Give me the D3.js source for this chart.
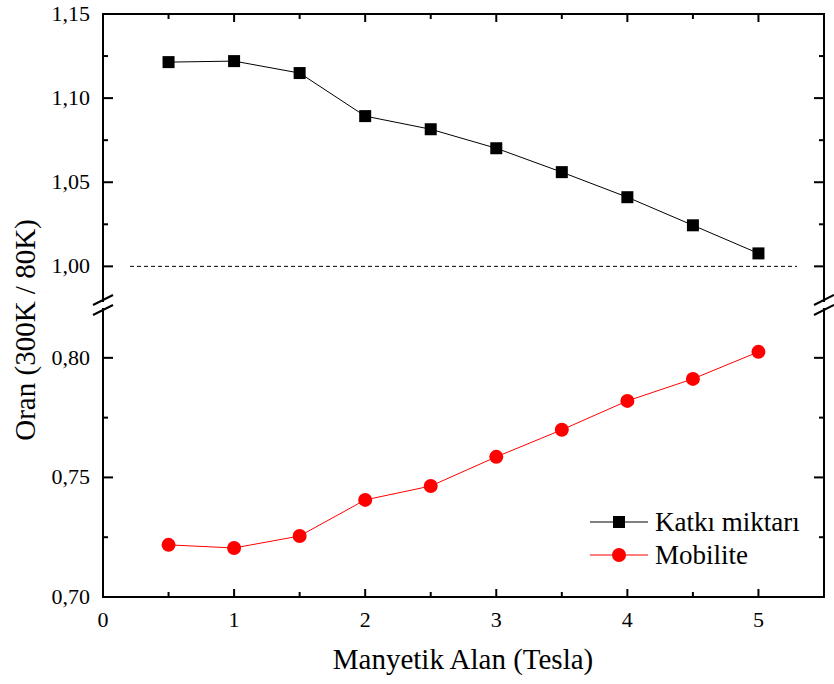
<!DOCTYPE html>
<html><head><meta charset="utf-8">
<script src="https://cdn.jsdelivr.net/npm/d3@7"></script>
<style>body{margin:0;background:#fff}svg{display:block}</style>
</head><body><svg id="c" width="834" height="684"></svg>
<script>
const fieldT = [0.5,1,1.5,2,2.5,3,3.5,4,4.5,5];
const katki = [1.1214,1.1220,1.1149,1.0893,1.0815,1.0702,1.0560,1.0411,1.0244,1.0077];
const mobilite = [0.7218,0.7205,0.7255,0.7406,0.7464,0.7586,0.7699,0.7820,0.7912,0.8025];
const xTicks = [0,1,2,3,4,5];
const upperTicks = [1.00,1.05,1.10,1.15];
const lowerTicks = [0.70,0.75,0.80];
const seriesNames = ["Katkı miktarı","Mobilite"];

const svg = d3.select("#c");
const L=103,R=824,T=14,B=597;
const x = d3.scaleLinear().domain([0,5.5]).range([L,R]);
const yU = d3.scaleLinear().domain([0.98,1.15]).range([300,T]);
const yL = d3.scaleLinear().domain([0.70,0.82]).range([B,310]);
const fmt = d3.format(".2f"), cf = v => fmt(v).replace(".",",");
const txt = (sel)=>sel.append("text").style("font-family","\"Liberation Serif\"").attr("fill","#000");

// dashed reference line
svg.append("line").attr("x1",130).attr("x2",797).attr("y1",yU(1)).attr("y2",yU(1))
  .attr("stroke","#000").attr("stroke-width",1).attr("stroke-dasharray","4,3");

// frame
const ax = svg.append("g").attr("stroke","#000").attr("stroke-width",2).attr("fill","none");
ax.append("line").attr("x1",L).attr("x2",R).attr("y1",T).attr("y2",T);
ax.append("line").attr("x1",L).attr("x2",R).attr("y1",B).attr("y2",B);
[L,R].forEach(xx=>{
  ax.append("line").attr("x1",xx).attr("x2",xx).attr("y1",T-1).attr("y2",302);
  ax.append("line").attr("x1",xx).attr("x2",xx).attr("y1",308).attr("y2",B+1);
  ax.append("line").attr("x1",xx-10).attr("x2",xx+10).attr("y1",305).attr("y2",295);
  ax.append("line").attr("x1",xx-10).attr("x2",xx+10).attr("y1",315).attr("y2",305);
});

// x ticks
const xMinor = d3.range(0,5.51,0.5);
xMinor.forEach(v=>{
  const major = Math.abs(v-Math.round(v))<1e-6;
  const len = major?8:5;
  ax.append("line").attr("x1",x(v)).attr("x2",x(v)).attr("y1",B).attr("y2",B-len);
  ax.append("line").attr("x1",x(v)).attr("x2",x(v)).attr("y1",T).attr("y2",T+len);
});
xTicks.forEach(d=>txt(svg).attr("x",x(d)).attr("y",627).attr("text-anchor","middle").attr("font-size",22).text(d));

// y ticks
function yTicks(scale, majors, minors){
  minors.forEach(v=>{
    [[L,1],[R,-1]].forEach(([xx,s])=>ax.append("line").attr("x1",xx).attr("x2",xx+s*5).attr("y1",scale(v)).attr("y2",scale(v)));
  });
  majors.forEach(v=>{
    [[L,1],[R,-1]].forEach(([xx,s])=>ax.append("line").attr("x1",xx).attr("x2",xx+s*10).attr("y1",scale(v)).attr("y2",scale(v)));
    txt(svg).attr("x",90).attr("y",scale(v)+7).attr("text-anchor","end").attr("font-size",22).text(cf(v));
  });
}
yTicks(yU, upperTicks, [1.025,1.075,1.125]);
yTicks(yL, lowerTicks, [0.725,0.775]);

// series
const d1 = fieldT.map((t,i)=>[t,katki[i]]);
const d2 = fieldT.map((t,i)=>[t,mobilite[i]]);
svg.append("path").attr("d",d3.line().x(d=>x(d[0])).y(d=>yU(d[1]))(d1)).attr("fill","none").attr("stroke","#000").attr("stroke-width",1);
svg.append("g").selectAll("rect").data(d1).join("rect")
  .attr("x",d=>x(d[0])-6).attr("y",d=>yU(d[1])-6).attr("width",12).attr("height",12).attr("fill","#000");
svg.append("path").attr("d",d3.line().x(d=>x(d[0])).y(d=>yL(d[1]))(d2)).attr("fill","none").attr("stroke","#f00").attr("stroke-width",1);
svg.append("g").selectAll("circle").data(d2).join("circle")
  .attr("cx",d=>x(d[0])).attr("cy",d=>yL(d[1])).attr("r",7).attr("fill","#f00");

// legend
const lg = svg.append("g");
lg.append("line").attr("x1",590).attr("x2",648).attr("y1",522).attr("y2",522).attr("stroke","#000").attr("stroke-width",1);
lg.append("rect").attr("x",613).attr("y",516).attr("width",12).attr("height",12).attr("fill","#000");
txt(lg).attr("x",655).attr("y",531).attr("font-size",27).text(seriesNames[0]);
lg.append("line").attr("x1",590).attr("x2",648).attr("y1",555).attr("y2",555).attr("stroke","#f00").attr("stroke-width",1);
lg.append("circle").attr("cx",619).attr("cy",555).attr("r",7).attr("fill","#f00");
txt(lg).attr("x",655).attr("y",564).attr("font-size",27).text(seriesNames[1]);

// titles
txt(svg).attr("x",463).attr("y",669).attr("text-anchor","middle").attr("font-size",29).text("Manyetik Alan (Tesla)");
txt(svg).attr("transform","translate(35,330) rotate(-90)").attr("text-anchor","middle").attr("font-size",29).text("Oran (300K / 80K)");
</script></body></html>
